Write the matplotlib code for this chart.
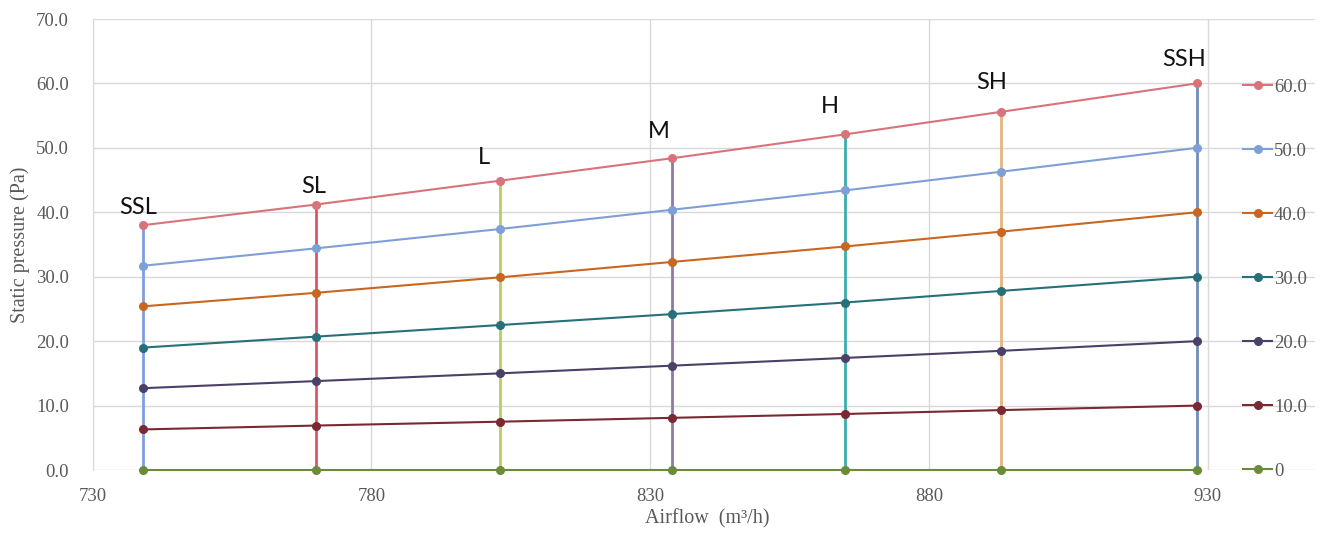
import matplotlib
matplotlib.use("Agg")
from matplotlib import pyplot as plt
from matplotlib.ticker import FormatStrFormatter

# fan speed settings and their airflow (m3/h)
speeds = ["SSL", "SL", "L", "M", "H", "SH", "SSH"]
airflow = [739, 770, 803, 834, 865, 893, 928]

# static pressure (Pa) per curve, named after pressure at SSH
series_names = ["60.0", "50.0", "40.0", "30.0", "20.0", "10.0", "0"]
p60 = [38.0, 41.2, 44.9, 48.4, 52.1, 55.6, 60.0]
p50 = [31.7, 34.4, 37.4, 40.4, 43.4, 46.3, 50.0]
p40 = [25.4, 27.5, 29.9, 32.3, 34.7, 37.0, 40.0]
p30 = [19.0, 20.7, 22.5, 24.2, 26.0, 27.8, 30.0]
p20 = [12.7, 13.8, 15.0, 16.2, 17.4, 18.5, 20.0]
p10 = [6.3, 6.9, 7.5, 8.1, 8.7, 9.3, 10.0]
p0 = [0, 0, 0, 0, 0, 0, 0]
pressures = [p60, p50, p40, p30, p20, p10, p0]

x_ticks = [730, 780, 830, 880, 930]
y_ticks = [0, 10, 20, 30, 40, 50, 60, 70]

series_colors = ['#d9737b', '#7fa0d6', '#c9661f', '#27707a',
                 '#4a4068', '#7a2831', '#6b8a3a']
vline_colors = ['#7f9ee0', '#e05563', '#b5cf5c', '#8a7aa8',
                '#3cadb0', '#e6b47c', '#6f8db8']
label_offsets = [(-5, 18), (-2, 18), (-16, 23), (-14, 27),
                 (-15, 28), (-10, 29), (-12, 24)]

plt.rcParams['font.family'] = ['Liberation Serif', 'DejaVu Serif']

figure = plt.figure(figsize=(13.28, 5.43), dpi=100)
axes = figure.add_axes([0.0698, 0.1344, 0.9202, 0.8306])

axes.vlines(airflow, 0, p60, colors=vline_colors, linewidth=2, zorder=2)

for name, values, color in zip(series_names, pressures, series_colors):
    axes.plot(airflow, values, color=color, linewidth=1.5, marker='o',
              markersize=5.5, label=name, zorder=3, clip_on=False)

for speed, x, y, off in zip(speeds, airflow, p60, label_offsets):
    axes.annotate(speed, (x, y), xytext=off, textcoords='offset pixels',
                  ha='center', va='center', fontsize=17, family='Lato',
                  color='#111111')

axes.set_xlim(730, 949.2)
axes.set_ylim(0, 70)
axes.set_xticks(x_ticks)
axes.set_yticks(y_ticks)
axes.yaxis.set_major_formatter(FormatStrFormatter('%.1f'))
axes.grid(True, color='#d9d9d9', linewidth=1)
axes.set_axisbelow(True)
for side in ['top', 'right', 'bottom']:
    axes.spines[side].set_visible(False)
axes.spines['left'].set_color('#d9d9d9')

axes.tick_params(axis='both', length=0, colors='#595959', labelsize=13.5)
axes.tick_params(axis='y', pad=17)
axes.tick_params(axis='x', pad=13)

axes.set_xlabel("Airflow  (m\u00b3/h)", fontsize=14.5, color='#595959')
axes.set_ylabel("Static pressure (Pa)", fontsize=14.5, color='#595959')
axes.xaxis.set_label_coords(0.503, -0.086)
axes.yaxis.set_label_coords(-0.051, 0.5)

legend = axes.legend(loc='center left', bbox_to_anchor=(0.936, 0.4854),
                     bbox_transform=figure.transFigure, frameon=False,
                     fontsize=13.5, labelcolor='#595959', labelspacing=2.5,
                     handlelength=1.55, handletextpad=0.1,
                     borderpad=0, borderaxespad=0)

figure.savefig("out.png", dpi=100)
